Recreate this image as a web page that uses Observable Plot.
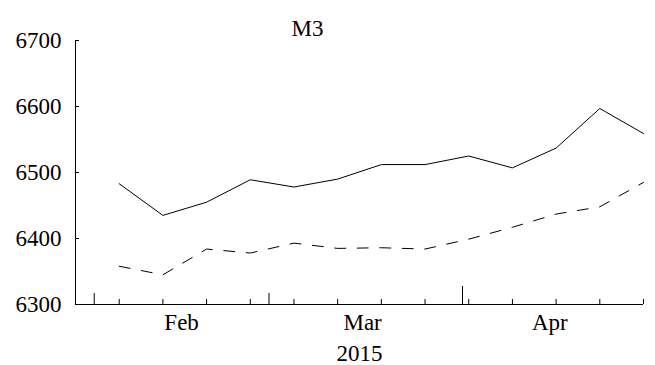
<!DOCTYPE html>
<html>
<head>
<meta charset="utf-8">
<script src="https://cdn.jsdelivr.net/npm/d3@7"></script>
<script src="https://cdn.jsdelivr.net/npm/@observablehq/plot@0.6"></script>
<style>
  html, body { margin: 0; padding: 0; background: #fff; }
  #chart svg { display: block; }
  #chart svg text { font-family: "Liberation Serif", "Times New Roman", serif !important; }
</style>
</head>
<body>
<div id="chart"></div>
<script>
// Weekly observations (Thursdays), 2015
const dates = ["2015-02-05","2015-02-12","2015-02-19","2015-02-26","2015-03-05","2015-03-12","2015-03-19","2015-03-26","2015-04-02","2015-04-09","2015-04-16","2015-04-23","2015-04-30"];
const solidSeries = [6483, 6435, 6455, 6489, 6478, 6490, 6512, 6512, 6525, 6507, 6537, 6597, 6559];
const dashedSeries = [6358, 6345, 6384, 6378, 6393, 6385, 6386, 6384, 6399, 6417, 6437, 6448, 6485];
const yTicks = [6300, 6400, 6500, 6600, 6700];
const monthStarts = ["2015-02-01", "2015-03-01"];
const quarterStarts = ["2015-04-01"];
const monthLabelDates = ["2015-02-15", "2015-03-16", "2015-04-15"];
const xDomain = ["2015-01-29", "2015-04-30"];
const yDomain = [6300, 6700];
const title = "M3";
const yearLabel = "2015";

const parse = d3.utcParse("%Y-%m-%d");
const solid = dates.map((d, i) => ({date: parse(d), value: solidSeries[i]}));
const dashed = dates.map((d, i) => ({date: parse(d), value: dashedSeries[i]}));
const font = "Liberation Serif";

const chart = Plot.plot({
  width: 655,
  height: 365,
  marginLeft: 75,
  marginRight: 12,
  marginTop: 40,
  marginBottom: 61,
  style: {fontFamily: font, fontSize: "23px", color: "#000", background: "#fff"},
  x: {type: "utc", domain: xDomain.map(parse)},
  y: {domain: yDomain},
  marks: [
    Plot.ruleX([parse(xDomain[0])], {stroke: "#000", strokeWidth: 1}),
    Plot.ruleY([yDomain[0]], {stroke: "#000", strokeWidth: 1}),
    Plot.axisY({ticks: yTicks, tickSize: 4, dx: 4, tickPadding: 14, tickFormat: d => String(d), label: null, fontSize: 23, fontFamily: font, stroke: "#000"}),
    Plot.axisX({ticks: dates.map(parse), tickSize: 5, dy: -5, tickFormat: () => "", label: null, stroke: "#000"}),
    Plot.axisX({ticks: monthStarts.map(parse), tickSize: 11, dy: -11, tickFormat: () => "", label: null, stroke: "#000"}),
    Plot.axisX({ticks: quarterStarts.map(parse), tickSize: 18, dy: -18, tickFormat: () => "", label: null, stroke: "#000"}),
    Plot.axisX({ticks: monthLabelDates.map(parse), tickSize: 0, tickPadding: 9, tickFormat: d3.utcFormat("%b"), label: yearLabel, labelAnchor: "center", labelArrow: "none", labelOffset: 56, fontSize: 23, fontFamily: font}),
    Plot.line(solid, {x: "date", y: "value", stroke: "#000", strokeWidth: 1}),
    Plot.line(dashed, {x: "date", y: "value", stroke: "#000", strokeWidth: 1, strokeDasharray: "11,11.5"}),
    Plot.text([title], {frameAnchor: "top", dx: -52, dy: -21, fontSize: 23, fontFamily: font, fill: "#000", text: d => d})
  ]
});
chart.setAttribute("font-family", font);
chart.querySelectorAll("text").forEach(el => {
  el.setAttribute("font-family", font);
  el.style.fontFamily = font;
});
document.getElementById("chart").appendChild(chart);
</script>
</body>
</html>
